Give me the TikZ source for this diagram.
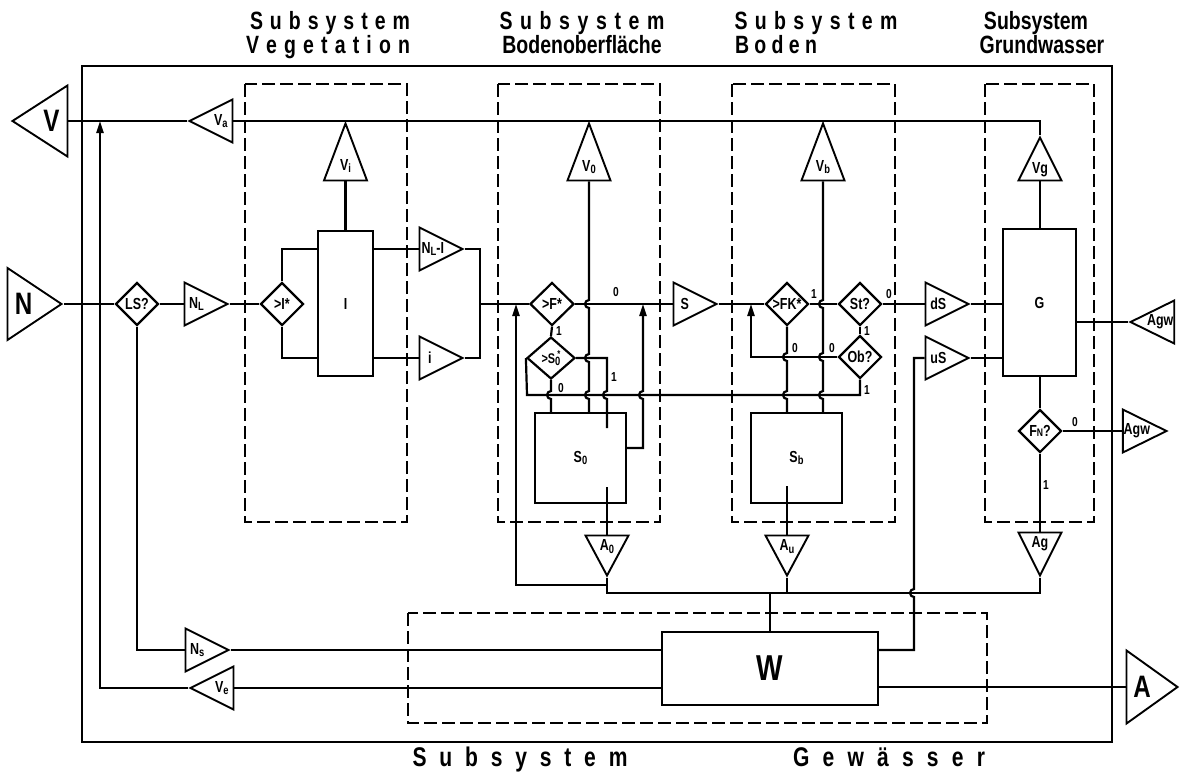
\documentclass[tikz,border=0pt]{standalone}
\usepackage{fontspec}
\setmainfont{Liberation Sans}[FakeStretch=0.78]
\usetikzlibrary{shapes.geometric,arrows.meta}

\newcommand{\lo}[1]{\raisebox{-2.5pt}{\fontsize{12}{12}\selectfont #1}}

\tikzset{
  blk/.style={draw,rectangle,inner sep=0pt},
  dec/.style={draw,diamond,inner sep=0pt,minimum width=43,minimum height=43},
  tri/.style={draw,isosceles triangle,isosceles triangle stretches,inner sep=0pt,
    minimum width=43,minimum height=43,line width=1.9pt},
  trir/.style={tri,shape border rotate=0},
  tril/.style={tri,shape border rotate=180},
  triu/.style={tri,shape border rotate=90},
  trid/.style={tri,shape border rotate=270},
  bigtxt/.style={font=\bfseries\fontsize{31}{31}\selectfont},
  lbl/.style={font=\bfseries\fontsize{13}{13}\selectfont,inner sep=0pt},
  ttl/.style={font=\bfseries\fontsize{25}{25}\selectfont,inner sep=0pt,anchor=base},
  subsys/.style={line width=2pt,dash pattern=on 13pt off 5pt},
  arr/.style={-{Triangle[length=12pt,width=7pt]}}
}

\begin{document}
\begin{tikzpicture}[x=1pt,y=-1pt,line width=2.2pt,font=\bfseries\fontsize{16}{16}\selectfont]
  % \hopdn{x}{y} / \hopup{x}{y}: a vertical wire jumping over a horizontal one
  \newcommand{\hopdn}[2]{-- (#1,#2-4) arc[start angle=270,end angle=90,radius=4]}
  \newcommand{\hopup}[2]{-- (#1,#2+4) arc[start angle=90,end angle=270,radius=4]}
  \useasboundingbox (0,0) rectangle (1182,774);

  % frame and the five subsystems
  \draw[line width=2.4pt] (82,66) rectangle (1112,742);
  \foreach \xa/\ya/\xb/\yb in {245/84/407/522,498/84/660/522,732/84/895/522,
                               985/84/1094/522,408/613/987/723}
    \draw[subsys] (\xa,\ya) rectangle (\xb,\yb);

  % titles
  \node[ttl] (t1) at (330,29) {\makebox[160pt][s]{S u b s y s t e m}};
  \node[ttl] (t2) at (328,53) {\makebox[164pt][s]{V e g e t a t i o n}};
  \node[ttl] (t3) at (582,29) {\makebox[165pt][s]{S u b s y s t e m}};
  \node[ttl] (t4) at (582,53) {Bodenoberfläche};
  \node[ttl] (t5) at (816,29) {\makebox[163pt][s]{S u b s y s t e m}};
  \node[ttl] (t6) at (776,53) {\makebox[82pt][s]{B o d e n}};
  \node[ttl] (t7) at (1036,29) {Subsystem};
  \node[ttl] (t8) at (1042,53) {Grundwasser};
  \node[ttl,font=\bfseries\fontsize{27}{27}\selectfont] (t9) at (520,766) {\makebox[215pt][s]{S u b s y s t e m}};
  \node[ttl,font=\bfseries\fontsize{27}{27}\selectfont] (t10) at (889,766) {\makebox[192pt][s]{G e w ä s s e r}};

  % inputs and outputs
  \node[tril,bigtxt,minimum width=71,minimum height=55,anchor=apex] (V) at (10,121) {V};
  \node[tril,anchor=apex] (va) at (187,121) {V\lo{a}};
  \node[trir,bigtxt,minimum width=72,minimum height=54,anchor=apex] (N) at (64,304) {N};
  \node[dec] (ls) at (137,304) {LS?};
  \node[trir,anchor=apex] (nl) at (230,304) {N\lo{L}};
  \node[trir,anchor=apex] (ns) at (231,650) {N\lo{s}};
  \node[tril,anchor=apex] (ve) at (188,688) {V\lo{e}};
  \node[trir,bigtxt,minimum width=73,minimum height=51,anchor=apex] (A) at (1180,687) {A};

  % vegetation
  \node[dec] (ist) at (282,304) {>I*};
  \node[blk,minimum width=55,minimum height=145] (I) at (345.5,303.5) {I};
  \node[triu,minimum height=57,anchor=apex] (vi) at (345.5,121) {V\lo{i}};
  \node[trir,anchor=apex] (nli) at (465,249) {N\lo{L}-I};
  \node[trir,anchor=apex] (ii) at (465,358) {i};

  % soil surface
  \node[dec,minimum width=44] (fst) at (552,304) {>F*};
  \node[dec,minimum width=48,minimum height=42,font=\bfseries\fontsize{14}{14}\selectfont] (sst) at (551,358) {>S\lo{0}\kern-3pt\raisebox{6pt}{\fontsize{10}{10}\selectfont*}};
  \node[triu,minimum height=57,anchor=apex] (vo) at (589,121) {V\lo{0}};
  \node[blk,minimum width=91,minimum height=90] (so) at (580.5,458) {S\lo{0}};
  \node[trir,anchor=apex] (s) at (719,304) {S};
  \node[trid,minimum height=40,anchor=apex] (ao) at (607,578) {A\lo{0}};

  % soil
  \node[dec] (fk) at (787,304) {>FK*};
  \node[dec] (st) at (860,304) {St?};
  \node[dec] (ob) at (860,357) {Ob?};
  \node[triu,minimum height=57,anchor=apex] (vb) at (823,121) {V\lo{b}};
  \node[blk,minimum width=91,minimum height=90] (sb) at (796.5,458) {S\lo{b}};
  \node[trid,minimum height=40,anchor=apex] (au) at (787,578) {A\lo{u}};

  % groundwater
  \node[triu,anchor=apex] (vg) at (1040,135) {Vg};
  \node[blk,minimum width=73,minimum height=147] (G) at (1039.5,302.5) {G};
  \node[trir,anchor=apex] (ds) at (971,304) {dS};
  \node[trir,anchor=apex] (us) at (971,358) {uS};
  \node[tril,anchor=apex] (agw1) at (1128,322) {Agw};
  \node[dec] (fn) at (1040,431) {F{\fontsize{11}{11}\selectfont N}?};
  \node[trir,anchor=apex] (agw2) at (1169,431) {Agw};
  \node[trid,anchor=apex] (ag) at (1040,578) {Ag};

  % waters
  \node[blk,font=\bfseries\fontsize{36}{36}\selectfont,minimum width=216,minimum height=73] (W) at (770,668.5) {W};

  % branch labels
  \foreach \x/\y/\t [count=\k] in {616/292/0,559/331/1,561/388/0,614/377/1,814/294/1,
      795/348/0,832/348/0,867/390/1,867/331/1,889/294/0,1075/422/0,1046/485/1}
    \node[lbl] (z\k) at (\x,\y) {\t};

  % bend points
  \coordinate (vup) at (100,688);
  \coordinate (jv) at (480,304);
  \coordinate (s1) at (607,358);
  \coordinate (s2) at (607,428);
  \coordinate (so1) at (607,487);
  \coordinate (sor) at (643,448);
  \coordinate (sl) at (527,395);
  \coordinate (ob1) at (860,395);
  \coordinate (fb) at (516,585);
  \coordinate (bus0) at (607,593);
  \coordinate (bl) at (751,357);
  \coordinate (sb1) at (787,486);
  \coordinate (wr) at (914,650);

  % evaporation
  \draw (V.lower side) -- (va.apex);
  \draw (va.lower side) -| (vg.apex);
  \draw (W.west |- ve.apex) -- (ve.lower side);
  \draw[arr] (ve.apex) -- (vup) -- (vup |- V.lower side);

  % precipitation and vegetation
  \draw (N.apex) -- (ls.west);
  \draw (ls.east) -- (nl.lower side);
  \draw (nl.apex) -- (ist.west);
  \draw (ist.north) |- (I.west |- nli.apex);
  \draw (ist.south) |- (I.west |- ii.apex);
  \draw (I.east |- nli.apex) -- (nli.lower side);
  \draw (I.east |- ii.apex) -- (ii.lower side);
  \draw (I.north) -- (vi.lower side);
  \draw (nli.apex) -| (jv) |- (ii.apex);
  \draw (jv) -- (fst.west);

  % soil surface
  \draw (fst.east) -- (s.lower side);
  \draw (fst.south) -- (sst.north);
  \draw (vo.lower side) \hopdn{589}{304} \hopdn{589}{358} \hopdn{589}{395} -- (vo.lower side |- so.north);
  \draw (sst.south) \hopdn{551}{395} -- (sst.south |- so.north);
  \draw (sst.east) -- (s1) \hopdn{607}{395} -- (s2);
  \draw (so1) -- (ao.lower side);
  \draw[arr] (so.east |- sor) -- (sor) \hopup{643}{395} -- (sor |- fst.east);
  \draw (ob.south) -- (ob1) -- (sl) -- (sst.west);
  \draw[arr] (ao.apex |- fb) -- (fb) -- (fb |- fst.west);

  % soil
  \draw (s.apex) -- (fk.west);
  \draw[arr] (ob.west) -- (bl) -- (bl |- fk.west);
  \draw (fk.east) -- (st.west);
  \draw (vb.lower side) \hopdn{823}{304} \hopdn{823}{357} \hopdn{823}{395} -- (vb.lower side |- sb.north);
  \draw (fk.south) \hopdn{787}{357} \hopdn{787}{395} -- (fk.south |- sb.north);
  \draw (st.south) -- (ob.north);
  \draw (st.east) -- (ds.lower side);
  \draw (sb1) -- (au.lower side);

  % groundwater
  \draw (vg.lower side) -- (vg.lower side |- G.north);
  \draw (ds.apex) -- (G.west |- ds.apex);
  \draw (us.apex) -- (G.west |- us.apex);
  \draw (G.east |- agw1.apex) -- (agw1.apex);
  \draw (G.south -| fn.north) -- (fn.north);
  \draw (fn.east) -- (agw2.lower side);
  \draw (fn.south) -- (ag.lower side);

  % outflows to the waters
  \draw (ao.apex) -- (bus0) -- (bus0 -| ag.apex) -- (ag.apex);
  \draw (au.apex) -- (au.apex |- bus0);
  \draw (W.north) -- (W.north |- bus0);
  \draw (ls.south) |- (ns.lower side);
  \draw (ns.apex) -- (W.west |- ns.apex);
  \draw (W.east |- wr) -- (wr) \hopup{914}{593} -- (wr |- us.lower side) -- (us.lower side);
  \draw (W.east |- A.lower side) -- (A.lower side);
\end{tikzpicture}
\end{document}
